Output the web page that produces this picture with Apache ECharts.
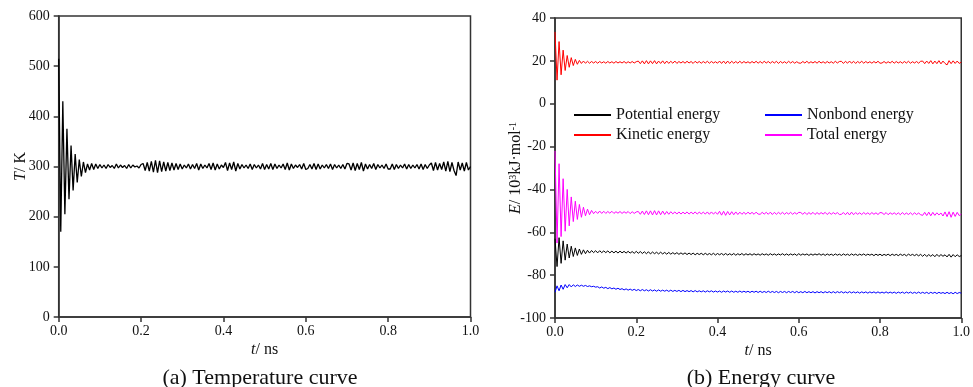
<!DOCTYPE html>
<html>
<head>
<meta charset="utf-8">
<script src="https://cdn.jsdelivr.net/npm/echarts@6/dist/echarts.min.js"></script>
<style>html,body{margin:0;padding:0;background:#fff;}#c{width:973px;height:387px;}</style>
</head>
<body>
<div id="c"></div>
<script>
// sampling step of the time axis (ns)
const timeStep = 0.005;

// (a) Temperature, K
const temperature = [
515,170,430,205,375,235,342,252,325,268,314,280,309,288,305,
293,306,294,305,296,304,
297,303,296,304,298,302,296,305,297,303,298,302,296,304,297,303,299,301,297,304,
306,292,308,291,310,289,312,288,311,290,309,291,308,292,307,293,306,294,305,295,
303,297,305,295,304,296,306,293,305,296,303,297,306,294,307,293,305,295,303,298,
308,292,307,294,309,291,306,295,304,297,303,296,305,294,304,297,303,295,306,294,
304,295,306,294,305,296,303,297,305,294,307,293,305,296,303,298,304,295,306,294,
296,304,295,306,294,305,295,303,297,304,296,305,294,304,297,303,296,304,295,306,
305,293,307,292,306,294,308,291,305,295,304,296,306,294,304,297,303,296,305,295,
295,305,294,304,296,303,297,305,295,304,296,303,297,304,295,305,294,304,296,303,
307,292,308,293,306,294,309,291,310,290,308,292,282,309,293,307,291,308,293,300
];

// (b) Energies, 10^3 kJ/mol
const kineticEnergy = [
33.5,11,29,13.5,25,15.5,22.5,17,21.5,17.8,20.7,18.4,20.2,18.8,19.9,
18.9,19.8,18.9,19.7,19.0,19.7,
18.9,19.7,19.0,19.6,18.9,19.7,19.0,19.6,18.9,19.7,19.0,19.6,19.0,19.7,18.9,19.6,19.0,19.7,19.0,19.6,
19.9,18.7,20.0,18.6,20.1,18.6,20.0,18.7,20.1,18.6,19.9,18.8,20.0,18.7,19.9,18.8,19.8,18.9,19.9,18.8,
19.7,19.0,19.7,18.9,19.8,19.0,19.7,18.8,19.8,19.0,19.7,18.9,19.7,19.0,19.8,18.9,19.7,19.0,19.6,18.9,
19.9,18.8,19.9,18.7,19.9,18.8,19.8,18.9,19.7,18.9,19.8,18.9,19.7,19.0,19.6,18.9,19.7,19.0,19.8,18.9,
19.7,18.9,19.8,19.0,19.7,18.9,19.7,19.0,19.8,18.8,19.7,19.0,19.6,18.9,19.8,19.0,19.7,18.9,19.6,19.0,
18.9,19.7,19.0,19.8,18.9,19.6,19.0,19.7,18.9,19.8,19.0,19.6,18.9,19.7,19.0,19.6,18.9,19.8,19.0,19.7,
19.8,18.8,19.8,18.9,19.9,18.9,19.8,18.8,19.7,19.0,19.8,18.9,19.7,19.0,19.6,18.9,19.7,19.0,19.8,18.9,
19.0,19.7,18.9,19.6,19.0,19.8,18.9,19.7,19.0,19.6,18.9,19.7,19.0,19.8,18.9,19.6,19.0,19.7,18.9,19.8,
19.9,18.7,19.9,18.8,20.1,18.6,19.9,18.7,20.1,18.6,19.9,18.8,18.1,20.1,18.7,20.0,18.8,19.9,18.8,19.4
];

const totalEnergy = [
-22,-65,-28,-62,-35,-59.5,-40,-57,-43.5,-55,-45.5,-54,-47,-53,-48.3,-52.3,-49.2,-51.8,-49.8,-51.3,-50.2,
-51.2,-50.1,-51.2,-50.2,-51.2,-50.3,-51.1,-50.2,-51.2,-50.4,-51.1,-50.3,-51.2,-50.4,-51.1,-50.3,-51.3,-50.4,-51.2,-50.5,
-50.3,-51.6,-50.1,-51.7,-50.0,-51.8,-50.0,-51.9,-49.9,-51.9,-50.0,-51.8,-50.1,-51.7,-50.3,-51.6,-50.4,-51.4,-50.5,-51.5,
-50.5,-51.5,-50.6,-51.4,-50.5,-51.5,-50.6,-51.4,-50.5,-51.5,-50.6,-51.4,-50.6,-51.5,-50.5,-51.6,-50.5,-51.5,-50.6,-51.6,
-50.2,-52.0,-50.2,-52.1,-50.3,-51.9,-50.4,-51.8,-50.5,-51.7,-50.6,-51.6,-50.7,-51.6,-50.6,-51.5,-50.7,-51.6,-50.6,-51.5,
-51.6,-50.7,-51.5,-50.7,-51.6,-50.6,-51.7,-50.7,-51.6,-50.7,-51.5,-50.7,-51.6,-50.8,-51.5,-50.7,-51.6,-50.8,-51.5,-50.7,
-50.8,-51.6,-50.7,-51.7,-50.8,-51.6,-50.7,-51.7,-50.8,-51.6,-50.8,-51.5,-50.7,-51.7,-50.8,-51.6,-50.8,-51.5,-50.8,-51.7,
-51.6,-50.8,-51.8,-50.7,-51.9,-50.6,-51.8,-50.8,-51.6,-50.9,-51.7,-50.8,-51.6,-50.9,-51.7,-50.8,-51.6,-50.9,-51.7,-50.8,
-50.9,-51.7,-50.8,-51.8,-50.9,-51.6,-50.9,-51.7,-50.9,-51.8,-50.8,-51.7,-51.0,-51.7,-50.9,-51.8,-50.9,-51.7,-51.0,-51.8,
-52.1,-50.7,-52.2,-50.6,-52.3,-50.7,-52.1,-50.9,-51.9,-51.0,-52.4,-50.5,-52.7,-50.4,-53.0,-50.6,-52.6,-50.7,-52.2,-51.5
];

const potentialEnergy = [
-63,-76,-62.5,-74.5,-64,-73,-65.5,-72,-66.5,-71.3,-67.3,-70.8,-67.8,-70.3,-68.2,-70,-68.4,-69.7,-68.5,-69.5,-68.6,
-69.6,-68.6,-69.5,-68.7,-69.5,-68.7,-69.6,-68.8,-69.6,-68.8,-69.7,-68.8,-69.6,-68.9,-69.7,-68.9,-69.7,-69.0,-69.8,-68.9,
-69.8,-69.0,-69.9,-69.1,-70.0,-69.1,-70.1,-69.2,-70.0,-69.3,-70.1,-69.3,-70.1,-69.4,-70.2,-69.4,-70.2,-69.5,-70.2,-69.5,
-70.3,-69.6,-70.3,-69.6,-70.4,-69.7,-70.4,-69.7,-70.5,-69.8,-70.4,-69.8,-70.5,-69.8,-70.5,-69.9,-70.5,-69.8,-70.6,-69.9,
-70.5,-69.9,-70.6,-69.9,-70.6,-70.0,-70.6,-69.9,-70.7,-70.0,-70.6,-69.9,-70.7,-70.0,-70.6,-70.0,-70.7,-70.0,-70.6,-70.1,
-70.7,-70.0,-70.6,-70.1,-70.7,-70.0,-70.6,-70.1,-70.7,-70.1,-70.6,-70.0,-70.7,-70.1,-70.7,-70.1,-70.6,-70.1,-70.8,-70.0,
-70.7,-70.1,-70.6,-70.1,-70.8,-70.1,-70.7,-70.1,-70.6,-70.0,-70.7,-70.1,-70.8,-70.1,-70.7,-70.2,-70.8,-70.1,-70.7,-70.2,
-70.8,-70.1,-70.7,-70.2,-70.8,-70.1,-70.7,-70.2,-70.8,-70.2,-70.7,-70.1,-70.8,-70.2,-70.7,-70.2,-70.9,-70.2,-70.8,-70.2,
-70.9,-70.3,-70.8,-70.2,-70.9,-70.2,-70.8,-70.3,-70.9,-70.2,-70.8,-70.3,-71.0,-70.2,-70.8,-70.3,-70.9,-70.3,-71.0,-70.3,
-71.2,-70.3,-71.3,-70.4,-71.2,-70.4,-71.4,-70.3,-71.3,-70.4,-71.2,-70.5,-71.5,-70.3,-71.6,-70.4,-71.4,-70.5,-71.3,-70.9
];

const nonbondEnergy = [
-88,-85,-87.3,-84.6,-86.6,-84.4,-85.9,-84.4,-85.5,-84.5,-85.3,-84.6,-85.2,-84.7,-85.2,-84.8,-85.3,-85.0,-85.4,-85.2,-85.6,
-85.4,-86.0,-85.5,-86.1,-85.7,-86.3,-85.8,-86.4,-86.0,-86.6,-86.1,-86.7,-86.3,-86.9,-86.4,-87.0,-86.5,-87.1,-86.6,-87.2,
-86.7,-87.3,-86.7,-87.3,-86.8,-87.4,-86.8,-87.4,-86.9,-87.5,-86.9,-87.5,-87.0,-87.5,-87.0,-87.6,-87.0,-87.6,-87.1,-87.6,
-87.1,-87.7,-87.1,-87.7,-87.2,-87.7,-87.2,-87.8,-87.2,-87.8,-87.3,-87.8,-87.3,-87.9,-87.3,-87.8,-87.3,-87.9,-87.4,-87.9,
-87.4,-88.0,-87.4,-87.9,-87.4,-88.0,-87.4,-88.0,-87.5,-88.0,-87.4,-88.0,-87.5,-88.0,-87.5,-88.1,-87.5,-88.0,-87.5,-88.1,
-87.5,-88.1,-87.6,-88.1,-87.5,-88.1,-87.6,-88.1,-87.6,-88.2,-87.6,-88.1,-87.6,-88.2,-87.6,-88.1,-87.6,-88.2,-87.6,-88.2,
-87.7,-88.2,-87.6,-88.2,-87.7,-88.2,-87.7,-88.3,-87.7,-88.2,-87.7,-88.3,-87.7,-88.2,-87.7,-88.3,-87.7,-88.3,-87.7,-88.2,
-87.7,-88.3,-87.8,-88.3,-87.7,-88.3,-87.8,-88.3,-87.8,-88.4,-87.8,-88.3,-87.8,-88.4,-87.8,-88.3,-87.8,-88.4,-87.8,-88.4,
-87.9,-88.4,-87.8,-88.4,-87.9,-88.4,-87.9,-88.5,-87.9,-88.4,-87.9,-88.5,-87.9,-88.4,-87.9,-88.5,-88.0,-88.5,-87.9,-88.5,
-88.0,-88.5,-88.0,-88.6,-88.0,-88.5,-88.0,-88.6,-88.0,-88.5,-88.1,-88.6,-88.0,-88.6,-88.1,-88.7,-88.0,-88.6,-88.1,-88.4
];

const seriesNames = ['Potential energy', 'Kinetic energy', 'Nonbond energy', 'Total energy'];
const captions = ['(a) Temperature curve', '(b) Energy curve'];

function toPairs(values) {
  return values.map((v, i) => [Math.round(i * timeStep * 1000) / 1000, v]);
}

const FONT = 'Liberation Serif';
const axisLineStyle = { color: '#333', width: 1.5 };
const labelStyle = { fontFamily: FONT, fontSize: 14, color: '#111' };

function xAxisCfg(grid) {
  return {
    gridIndex: grid, type: 'value', min: 0, max: 1, interval: 0.2,
    name: '{i|t}/ ns', nameLocation: 'middle', nameGap: 25, nameMoveOverlap: false,
    nameTextStyle: { fontFamily: FONT, fontSize: 16, color: '#111',
      rich: { i: { fontFamily: FONT, fontSize: 16, fontStyle: 'italic', color: '#111' } } },
    axisLine: { show: true, onZero: false, lineStyle: axisLineStyle },
    axisTick: { show: true, inside: false, length: 5, lineStyle: axisLineStyle },
    axisLabel: Object.assign({ margin: 7, formatter: v => v.toFixed(1) }, labelStyle),
    splitLine: { show: false }
  };
}

const chart = echarts.init(document.getElementById('c'), null, { renderer: 'canvas' });
chart.setOption({
  animation: false,
  backgroundColor: '#fff',
  title: [
    { text: captions[0], left: 260, top: 367, textAlign: 'center', padding: 0,
      textStyle: { fontFamily: FONT, fontSize: 22, fontWeight: 'normal', color: '#111' } },
    { text: captions[1], left: 761, top: 367, textAlign: 'center', padding: 0,
      textStyle: { fontFamily: FONT, fontSize: 22, fontWeight: 'normal', color: '#111' } }
  ],
  legend: [
    { data: [seriesNames[0], seriesNames[1]], orient: 'vertical', left: 574, top: 107,
      icon: 'rect', itemWidth: 37, itemHeight: 2, itemGap: 4, selectedMode: false, padding: 0,
      textStyle: { fontFamily: FONT, fontSize: 16, color: '#111' } },
    { data: [seriesNames[2], seriesNames[3]], orient: 'vertical', left: 765, top: 107,
      icon: 'rect', itemWidth: 37, itemHeight: 2, itemGap: 4, selectedMode: false, padding: 0,
      textStyle: { fontFamily: FONT, fontSize: 16, color: '#111' } }
  ],
  grid: [
    { left: 58.7, right: 502.5, top: 16, bottom: 70, show: true, borderColor: '#333', borderWidth: 1.5, backgroundColor: 'transparent' },
    { left: 555, right: 9, top: 18, bottom: 69, show: true, borderColor: '#333', borderWidth: 1.5, backgroundColor: 'transparent' }
  ],
  xAxis: [xAxisCfg(0), xAxisCfg(1)],
  yAxis: [
    { gridIndex: 0, type: 'value', min: 0, max: 600, interval: 100,
      name: '{i|T}/ K', nameLocation: 'middle', nameGap: 30, nameRotate: 90, nameMoveOverlap: false,
      nameTextStyle: { fontFamily: FONT, fontSize: 16, color: '#111',
        rich: { i: { fontFamily: FONT, fontSize: 16, fontStyle: 'italic', color: '#111' } } },
      axisLine: { show: true, onZero: false, lineStyle: axisLineStyle },
      axisTick: { show: true, inside: false, length: 5, lineStyle: axisLineStyle },
      axisLabel: Object.assign({ margin: 9 }, labelStyle),
      splitLine: { show: false } },
    { gridIndex: 1, type: 'value', min: -100, max: 40, interval: 20,
      name: '{i|E}/ 10{s|3}kJ·mol{s|-1}', nameLocation: 'middle', nameGap: 31, nameRotate: 90, nameMoveOverlap: false,
      nameTextStyle: { fontFamily: FONT, fontSize: 16, color: '#111',
        rich: {
          i: { fontFamily: FONT, fontSize: 16, fontStyle: 'italic', color: '#111' },
          s: { fontFamily: FONT, fontSize: 10, color: '#111', verticalAlign: 'top', lineHeight: 16 }
        } },
      axisLine: { show: true, onZero: false, lineStyle: axisLineStyle },
      axisTick: { show: true, inside: false, length: 5, lineStyle: axisLineStyle },
      axisLabel: Object.assign({ margin: 9 }, labelStyle),
      splitLine: { show: false } }
  ],
  series: [
    { name: 'Temperature', type: 'line', xAxisIndex: 0, yAxisIndex: 0, data: toPairs(temperature),
      symbol: 'none', lineStyle: { color: '#000', width: 1.3 }, itemStyle: { color: '#000' } },
    { name: seriesNames[2], type: 'line', xAxisIndex: 1, yAxisIndex: 1, data: toPairs(nonbondEnergy),
      symbol: 'none', lineStyle: { color: '#0000ff', width: 1 }, itemStyle: { color: '#0000ff' } },
    { name: seriesNames[1], type: 'line', xAxisIndex: 1, yAxisIndex: 1, data: toPairs(kineticEnergy),
      symbol: 'none', lineStyle: { color: '#ff0000', width: 1 }, itemStyle: { color: '#ff0000' } },
    { name: seriesNames[3], type: 'line', xAxisIndex: 1, yAxisIndex: 1, data: toPairs(totalEnergy),
      symbol: 'none', lineStyle: { color: '#ff00ff', width: 1 }, itemStyle: { color: '#ff00ff' } },
    { name: seriesNames[0], type: 'line', xAxisIndex: 1, yAxisIndex: 1, data: toPairs(potentialEnergy),
      symbol: 'none', lineStyle: { color: '#000', width: 1 }, itemStyle: { color: '#000' } }
  ]
});
</script>
</body>
</html>
